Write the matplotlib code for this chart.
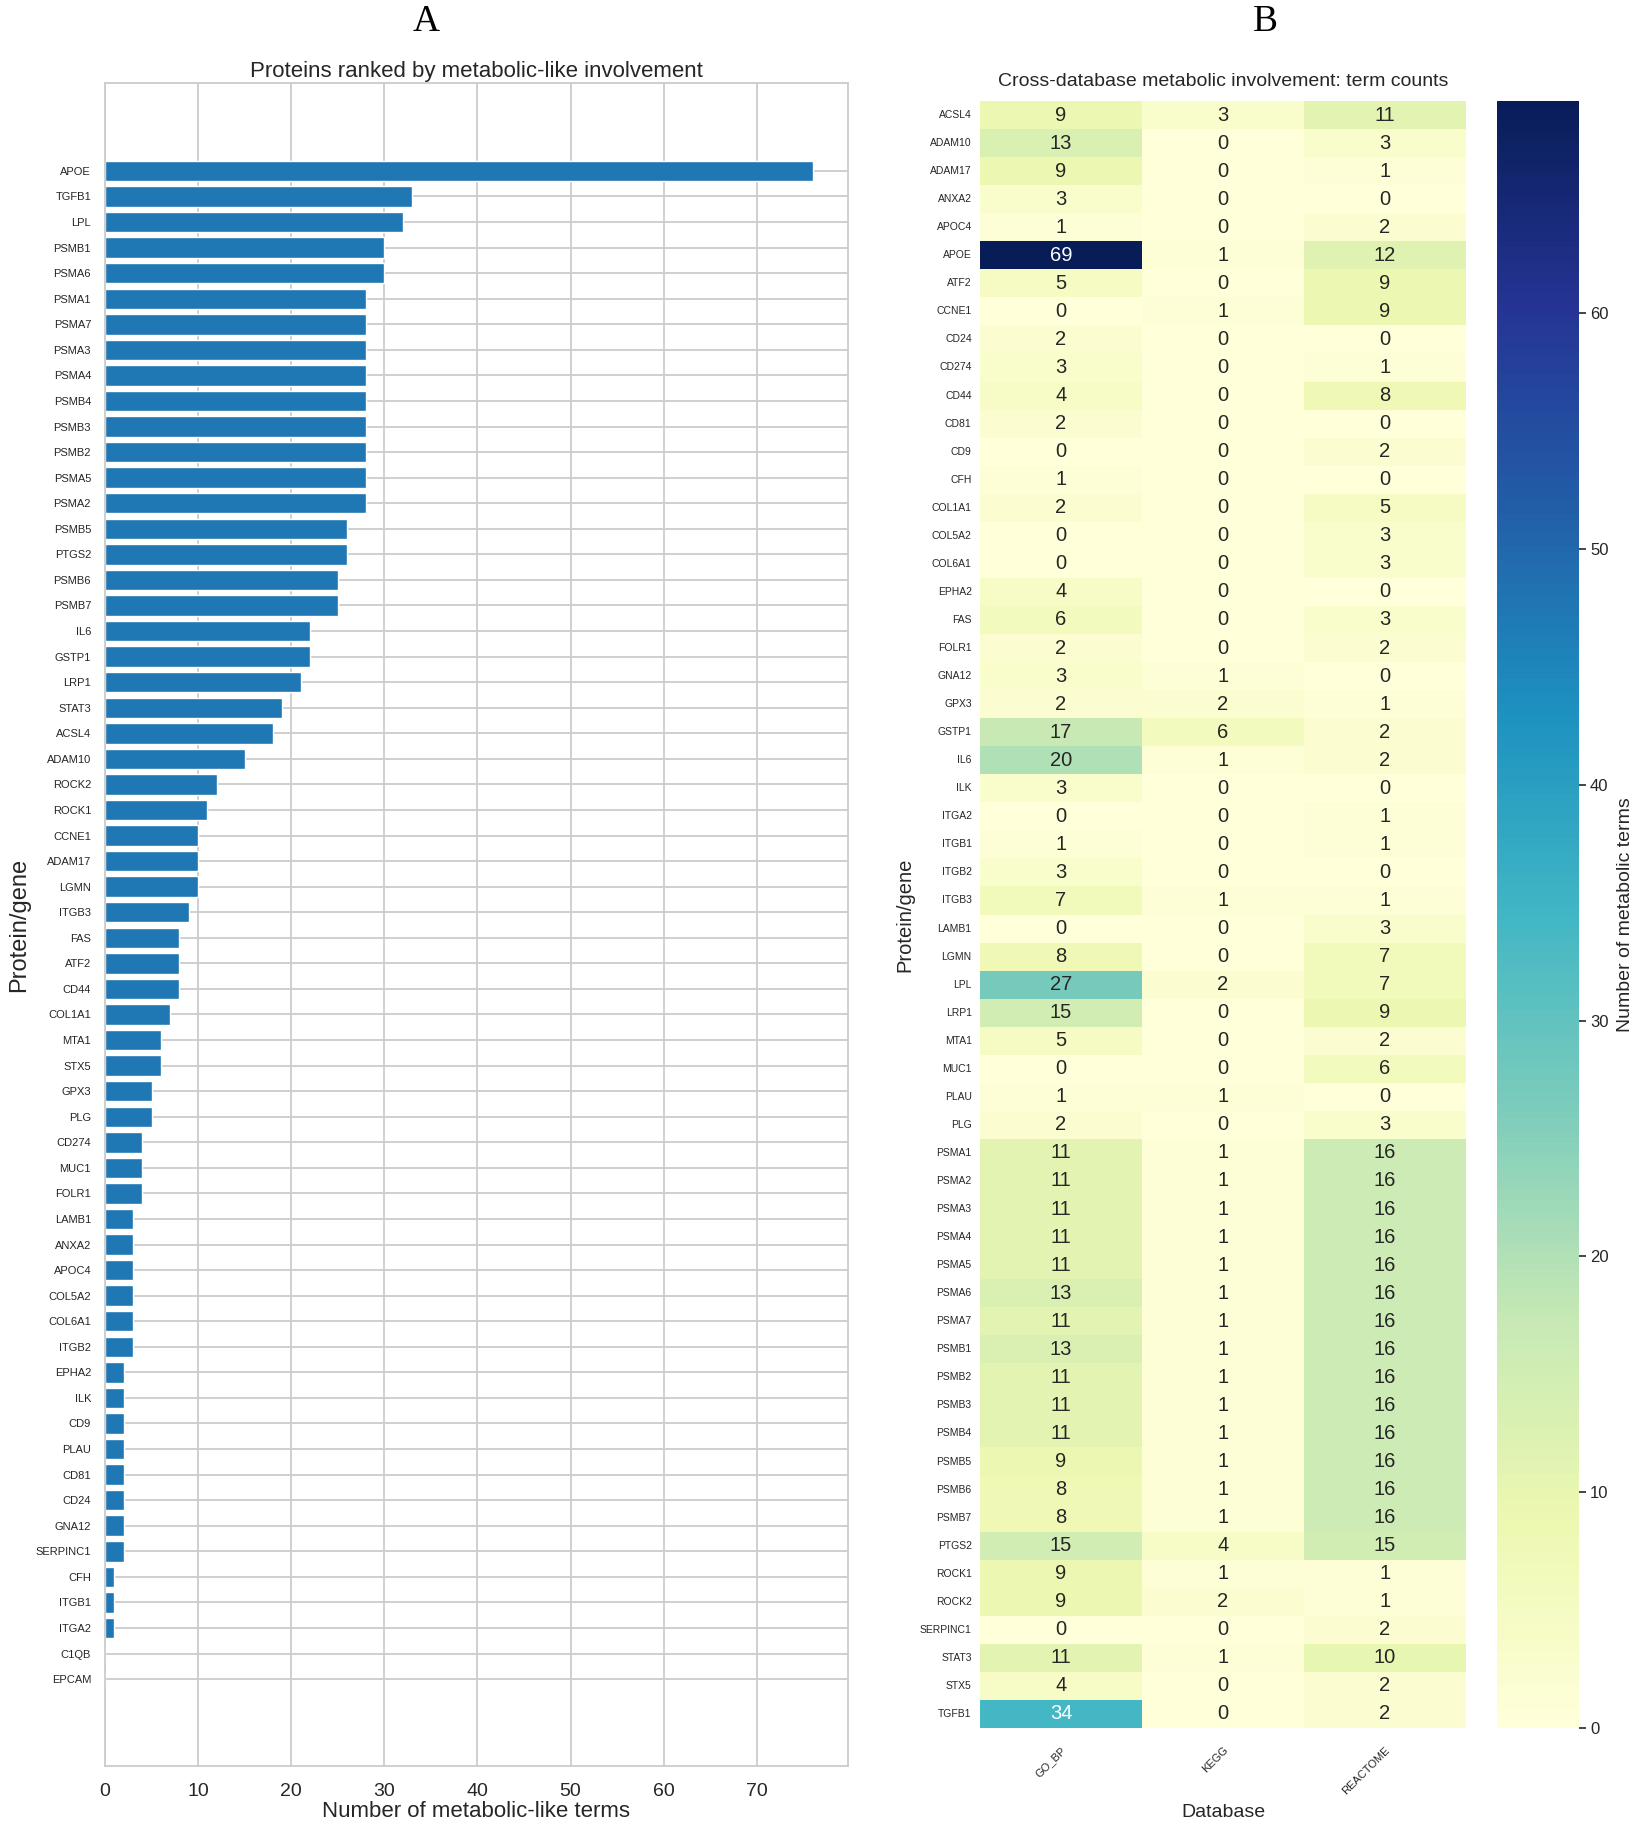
import matplotlib
matplotlib.use("Agg")
import matplotlib.pyplot as plt
import seaborn as sns
import pandas as pd
import numpy as np

# ---------------- Data ----------------
bar_genes = ["APOE", "TGFB1", "LPL", "PSMB1", "PSMA6", "PSMA1", "PSMA7", "PSMA3", "PSMA4",
             "PSMB4", "PSMB3", "PSMB2", "PSMA5", "PSMA2", "PSMB5", "PTGS2", "PSMB6", "PSMB7",
             "IL6", "GSTP1", "LRP1", "STAT3", "ACSL4", "ADAM10", "ROCK2", "ROCK1", "CCNE1",
             "ADAM17", "LGMN", "ITGB3", "FAS", "ATF2", "CD44", "COL1A1", "MTA1", "STX5",
             "GPX3", "PLG", "CD274", "MUC1", "FOLR1", "LAMB1", "ANXA2", "APOC4", "COL5A2",
             "COL6A1", "ITGB2", "EPHA2", "ILK", "CD9", "PLAU", "CD81", "CD24", "GNA12",
             "SERPINC1", "CFH", "ITGB1", "ITGA2", "C1QB", "EPCAM"]
bar_values = [76, 33, 32, 30, 30, 28, 28, 28, 28,
              28, 28, 28, 28, 28, 26, 26, 25, 25,
              22, 22, 21, 19, 18, 15, 12, 11, 10,
              10, 10, 9, 8, 8, 8, 7, 6, 6,
              5, 5, 4, 4, 4, 3, 3, 3, 3,
              3, 3, 2, 2, 2, 2, 2, 2, 2,
              2, 1, 1, 1, 0, 0]

heat_genes = ["ACSL4", "ADAM10", "ADAM17", "ANXA2", "APOC4", "APOE", "ATF2", "CCNE1", "CD24",
              "CD274", "CD44", "CD81", "CD9", "CFH", "COL1A1", "COL5A2", "COL6A1", "EPHA2",
              "FAS", "FOLR1", "GNA12", "GPX3", "GSTP1", "IL6", "ILK", "ITGA2", "ITGB1",
              "ITGB2", "ITGB3", "LAMB1", "LGMN", "LPL", "LRP1", "MTA1", "MUC1", "PLAU",
              "PLG", "PSMA1", "PSMA2", "PSMA3", "PSMA4", "PSMA5", "PSMA6", "PSMA7", "PSMB1",
              "PSMB2", "PSMB3", "PSMB4", "PSMB5", "PSMB6", "PSMB7", "PTGS2", "ROCK1", "ROCK2",
              "SERPINC1", "STAT3", "STX5", "TGFB1"]
go_bp = [9, 13, 9, 3, 1, 69, 5, 0, 2,
         3, 4, 2, 0, 1, 2, 0, 0, 4,
         6, 2, 3, 2, 17, 20, 3, 0, 1,
         3, 7, 0, 8, 27, 15, 5, 0, 1,
         2, 11, 11, 11, 11, 11, 13, 11, 13,
         11, 11, 11, 9, 8, 8, 15, 9, 9,
         0, 11, 4, 34]
kegg = [3, 0, 0, 0, 0, 1, 0, 1, 0,
        0, 0, 0, 0, 0, 0, 0, 0, 0,
        0, 0, 1, 2, 6, 1, 0, 0, 0,
        0, 1, 0, 0, 2, 0, 0, 0, 1,
        0, 1, 1, 1, 1, 1, 1, 1, 1,
        1, 1, 1, 1, 1, 1, 4, 1, 2,
        0, 1, 0, 0]
reactome = [11, 3, 1, 0, 2, 12, 9, 9, 0,
            1, 8, 0, 2, 0, 5, 3, 3, 0,
            3, 2, 0, 1, 2, 2, 0, 1, 1,
            0, 1, 3, 7, 7, 9, 2, 6, 0,
            3, 16, 16, 16, 16, 16, 16, 16, 16,
            16, 16, 16, 16, 16, 16, 15, 1, 1,
            2, 10, 2, 2]
db_labels = ["GO_BP", "KEGG", "REACTOME"]

# ---------------- Style ----------------
sns.set_theme(style="whitegrid")
plt.rcParams["font.family"] = ["Liberation Sans", "DejaVu Sans"]

W, H = 1638, 1830
fig = plt.figure(figsize=(W / 100, H / 100), dpi=100)


def rect(l, t, r, b):
    return [l / W, 1 - b / H, (r - l) / W, (b - t) / H]


# ---------------- Panel A ----------------
axA = fig.add_axes(rect(105, 83, 848, 1766))
ypos = np.arange(len(bar_genes))
axA.barh(ypos, bar_values, height=0.8, color="#1f77b4", edgecolor="white",
         linewidth=1.0, zorder=2)
axA.set_axisbelow(True)
axA.set_yticks(ypos)
axA.set_yticklabels(bar_genes, fontsize=8, color=".15")
axA.set_ylim(len(bar_genes) - 1 + 3.4, -3.44)
axA.set_xlim(0, 79.8)
axA.set_xticks(range(0, 80, 10))
axA.tick_params(axis="x", labelsize=14, colors=".15", pad=6)
axA.tick_params(axis="y", pad=4)
axA.grid(True, color=".8", linewidth=1.3)
for s in axA.spines.values():
    s.set_color(".8")
    s.set_linewidth(1.3)
axA.set_xlabel("Number of metabolic-like terms", fontsize=16, color=".15", labelpad=1)
axA.set_ylabel("Protein/gene", fontsize=17, color=".15", labelpad=4)
axA.set_title("Proteins ranked by metabolic-like involvement", fontsize=16,
              color=".15", pad=4)

# ---------------- Panel B ----------------
df = pd.DataFrame({db_labels[0]: go_bp, db_labels[1]: kegg, db_labels[2]: reactome},
                  index=heat_genes)
axB = fig.add_axes(rect(980, 101, 1466, 1728))
cax = fig.add_axes(rect(1497, 101, 1579, 1728))
sns.heatmap(df, ax=axB, cbar_ax=cax, cmap="YlGnBu", annot=True, fmt="d",
            annot_kws={"size": 14.5}, cbar_kws={"label": "Number of metabolic terms"})
axB.grid(False)
axB.set_yticks(np.arange(len(heat_genes)) + 0.5)
axB.set_yticklabels(heat_genes, fontsize=7.5, rotation=0, color=".15")
axB.set_xticklabels(db_labels, fontsize=8, rotation=45, ha="right",
                    rotation_mode="anchor", color=".15")
axB.tick_params(axis="x", pad=12, length=0)
axB.tick_params(axis="y", pad=6, length=0)
axB.set_xlabel("Database", fontsize=14, color=".15", labelpad=6)
axB.set_ylabel("Protein/gene", fontsize=14.5, color=".15")
axB.set_title("Cross-database metabolic involvement: term counts", fontsize=14,
              color=".15", pad=11)

cax.tick_params(labelsize=12, length=5, width=1.2, colors=".15", right=True, pad=3)
cax.set_ylabel("Number of metabolic terms", fontsize=14, color=".15", labelpad=6)

# ---------------- Panel letters ----------------
fig.text(426 / W, 1 - 22 / H, "A", fontsize=27, family=["Liberation Serif", "DejaVu Serif"],
         ha="center", va="center", color="black")
fig.text(1265 / W, 1 - 22 / H, "B", fontsize=27, family=["Liberation Serif", "DejaVu Serif"],
         ha="center", va="center", color="black")

fig.savefig("out.png", dpi=100)
